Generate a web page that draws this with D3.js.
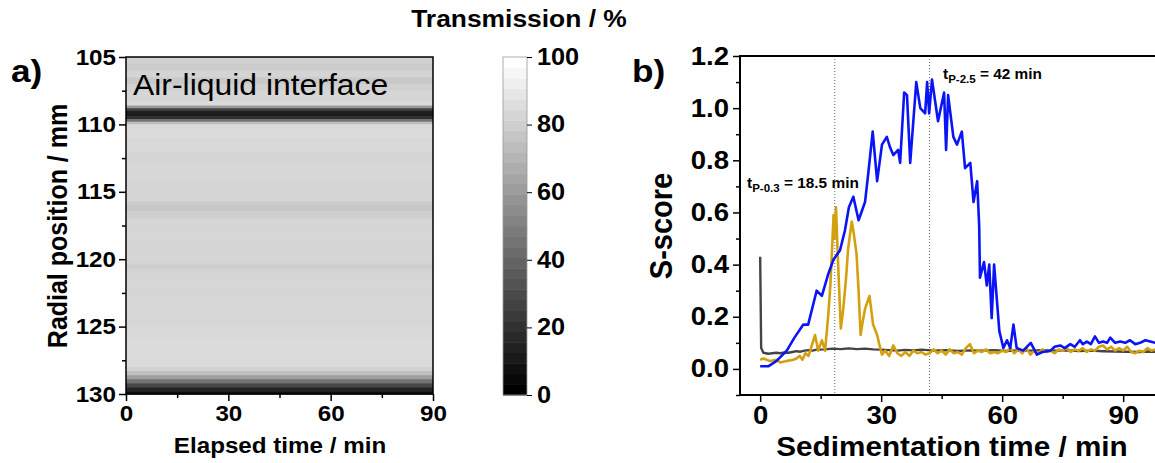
<!DOCTYPE html>
<html>
<head>
<meta charset="utf-8">
<script src="https://cdn.jsdelivr.net/npm/d3@7"></script>
<style>
  body { margin: 0; background: #fff; }
  text { font-family: "Liberation Sans", Arial, sans-serif; }
</style>
</head>
<body>
<script>
// ---- panel a: transmission profile (radial position in mm -> transmission %) ----
let heatPos = [105, 105.5, 106, 106.5, 107, 107.5, 108, 108.3, 108.6, 108.8, 109.0, 109.2, 109.4, 109.6, 109.8,
  110, 111, 112, 113, 114, 115, 115.7, 116.0, 116.4, 117, 118, 119, 120, 120.4, 120.7, 121, 122, 123, 124,
  125, 126, 127, 128, 128.3, 128.6, 128.9, 129.2, 129.5, 129.8];
let heatTrans = [82, 80, 83, 79, 82, 84, 83, 86, 60, 25, 12, 10, 18, 45, 75,
  86, 85, 84, 84.5, 84, 83.5, 80, 78, 81, 84, 84, 84, 83, 80.5, 83, 84, 84, 84.5, 84,
  85, 86, 85.5, 82, 75, 62, 45, 28, 14, 6];
let heatTimeTicks = [0, 30, 60, 90];
let heatPosTicks = [105, 110, 115, 120, 125, 130];
let cbTicks = [0, 20, 40, 60, 80, 100];

// ---- panel b: S-score series ----
let blueT = [0, 2, 4, 6.6, 8.5, 10.7, 11.9, 14, 15.3, 16.8, 18.2, 19.8, 21, 22, 23.1, 24.4, 26, 26.8, 27.9, 29,
  30.2, 31.4, 32.2, 33, 34.2, 34.7, 35.7, 36.4, 37.2, 38.7, 39.7, 40.9, 41.4, 41.9, 42.6, 44.1, 45.6, 46.1, 46.6,
  47.9, 48.8, 50, 50.8, 52.1, 52.9, 53.8, 54.3, 54.5, 55.5, 56.2, 56.8, 57.4, 58, 59.3, 60.3, 61.2, 62, 62.8,
  63.6, 65.2, 67.1, 68.6, 70, 72, 73, 74.4, 75.5, 76.9, 78, 79.3, 80, 81, 82, 83, 84, 85, 86, 86.8, 88, 89.3,
  90.5, 91.7, 93, 94.2, 95.5, 96.7, 98];
let blueS = [0.01, 0.01, 0.03, 0.07, 0.12, 0.17, 0.17, 0.30, 0.28, 0.36, 0.42, 0.455, 0.53, 0.62, 0.66, 0.57, 0.64, 0.75, 0.91, 0.72,
  0.86, 0.89, 0.85, 0.82, 0.84, 0.79, 1.06, 1.05, 0.79, 1.10, 1.00, 0.98, 1.10, 0.98, 1.11, 0.95, 1.06, 0.84, 1.05,
  0.89, 0.86, 0.91, 0.77, 0.79, 0.64, 0.72, 0.55, 0.35, 0.41, 0.32, 0.40, 0.195, 0.40, 0.145, 0.08, 0.11, 0.08, 0.17,
  0.08, 0.07, 0.10, 0.055, 0.065, 0.07, 0.085, 0.09, 0.08, 0.095, 0.085, 0.11, 0.095, 0.105, 0.095, 0.125, 0.10, 0.105, 0.10, 0.12, 0.10, 0.105,
  0.10, 0.11, 0.095, 0.10, 0.11, 0.105, 0.10];

let goldT = [0, 0.8, 2.5, 4, 5, 6.5, 8.2, 9, 9.8, 10.5, 11.2, 12, 12.8, 13.6, 14.4, 15.3, 16.1, 16.9, 17.4, 17.8,
  18.2, 18.5, 18.8, 19.2, 19.6, 20, 20.6, 21.3, 21.8, 22.7, 23.2, 23.9, 24.4, 24.9, 25.4, 26, 27.1, 27.6, 28, 29, 29.6,
  30.2, 31, 32, 33, 34, 35, 36, 37, 38, 39, 40, 41, 42, 43, 44, 45, 46, 47, 48, 49, 50, 51, 52, 53, 54, 55, 56, 57,
  58, 59, 60, 61, 62, 63, 64, 65, 66, 67, 68, 69, 70, 71, 72, 73, 74, 75, 76, 77, 78, 79, 80, 81, 82, 83, 84, 85,
  86, 87, 88, 89, 90, 91, 92, 93, 94, 95, 96, 97, 98];
let goldS = [0.035, 0.04, 0.03, 0.035, 0.025, 0.03, 0.035, 0.04, 0.05, 0.035, 0.06, 0.05, 0.09, 0.13, 0.07, 0.11, 0.07, 0.21, 0.32, 0.45,
  0.59, 0.50, 0.62, 0.45, 0.30, 0.155, 0.23, 0.35, 0.46, 0.565, 0.52, 0.44, 0.30, 0.13, 0.18, 0.23, 0.28, 0.22, 0.17, 0.13, 0.09,
  0.055, 0.07, 0.05, 0.09, 0.06, 0.05, 0.065, 0.05, 0.07, 0.06, 0.065, 0.055, 0.06, 0.075, 0.06, 0.07, 0.055, 0.075, 0.06, 0.065, 0.055, 0.08, 0.095, 0.06, 0.07, 0.065, 0.075, 0.06,
  0.065, 0.06, 0.07, 0.065, 0.08, 0.06, 0.075, 0.06, 0.08, 0.055, 0.07, 0.06, 0.075, 0.065, 0.07, 0.06, 0.075, 0.07, 0.08, 0.065, 0.075, 0.07, 0.08, 0.065, 0.075, 0.07, 0.085, 0.09,
  0.075, 0.085, 0.07, 0.08, 0.07, 0.085, 0.065, 0.06, 0.07, 0.065, 0.08, 0.07, 0.075];

let grayT = [0, 0.25, 0.8, 2, 3, 4, 5, 6, 7, 8, 9, 10, 11, 12, 13, 14, 16, 18, 20, 22, 24, 26, 28, 30, 32, 34, 36, 38,
  40, 43, 46, 49, 52, 55, 58, 61, 64, 67, 70, 73, 76, 79, 82, 85, 88, 91, 94, 96, 98];
let grayS = [0.43, 0.08, 0.062, 0.058, 0.06, 0.062, 0.06, 0.063, 0.062, 0.065, 0.068, 0.066, 0.07, 0.072, 0.07, 0.074, 0.075, 0.078, 0.076, 0.079, 0.076, 0.078, 0.075, 0.074, 0.072, 0.07, 0.073, 0.071,
  0.074, 0.07, 0.072, 0.069, 0.071, 0.07, 0.072, 0.069, 0.071, 0.07, 0.072, 0.07, 0.071, 0.069, 0.07, 0.068, 0.067, 0.066, 0.065, 0.067, 0.066];

let sedTicks = [0, 30, 60, 90];
let scoreTicks = [0.0, 0.2, 0.4, 0.6, 0.8, 1.0, 1.2];
let markerTimes = [18.5, 42];

// ---- svg ----
let svgWidth = 1155;
let svgHeight = 463;
let svg = d3.select("body").append("svg")
  .attr("width", svgWidth)
  .attr("height", svgHeight);

// the original picture is a bit wider than tall, so text gets a small x stretch
let stretch = 1.1;

function addText(x, y, str, size, opts) {
  opts = opts || {};
  let t = svg.append("text")
    .attr("transform", `translate(${x},${y}) ${opts.rotate ? "rotate(-90) scale(1," + stretch + ")" : "scale(" + stretch + ",1)"}`)
    .attr("font-size", size)
    .attr("font-weight", opts.weight || "bold")
    .attr("text-anchor", opts.anchor || "start")
    .text(str);
  return t;
}

function styleAxis(g, size) {
  g.select(".domain").remove();
  g.selectAll("line").attr("stroke", "#000").attr("stroke-width", 1.5);
  g.selectAll("text")
    .attr("font-family", "Liberation Sans, Arial, sans-serif")
    .attr("font-size", size)
    .attr("font-weight", "bold")
    .attr("fill", "#000")
    .each(function() {
      let t = d3.select(this);
      let x = +t.attr("x") || 0;
      let y = +t.attr("y") || 0;
      t.attr("x", 0).attr("y", 0).attr("transform", `translate(${x},${y}) scale(${stretch},1)`);
    });
  g.attr("font-family", null);
}

// ================= panel a =================
let xA = d3.scaleLinear([0, 90], [126, 433]);
let yA = d3.scaleLinear([105, 130], [57, 394]);
let grayScale = d3.scaleLinear([0, 100], ["#000000", "#ffffff"]);

let rows = heatPos.map((p, i) => ({
  p0: p,
  p1: i < heatPos.length - 1 ? heatPos[i + 1] : yA.domain()[1],
  v: heatTrans[i]
}));

svg.append("g").selectAll("rect")
  .data(rows)
  .enter()
  .append("rect")
  .attr("x", xA(0))
  .attr("width", xA(90) - xA(0))
  .attr("y", d => yA(d.p0))
  .attr("height", d => yA(d.p1) - yA(d.p0) + 0.5)
  .attr("fill", d => grayScale(d.v));

// frame
svg.append("rect")
  .attr("x", xA(0)).attr("y", yA(105))
  .attr("width", xA(90) - xA(0)).attr("height", yA(130) - yA(105))
  .attr("fill", "none").attr("stroke", "#000").attr("stroke-width", 1.5);

// axes with minor ticks
svg.append("g").attr("transform", `translate(${xA(0)},0)`)
  .call(d3.axisLeft(yA).tickValues([107.5, 112.5, 117.5, 122.5, 127.5]).tickSize(4).tickFormat(""))
  .call(styleAxis, 22);
svg.append("g").attr("transform", `translate(${xA(0)},0)`)
  .call(d3.axisLeft(yA).tickValues(heatPosTicks).tickSize(7).tickPadding(3))
  .call(styleAxis, 22);
svg.append("g").attr("transform", `translate(0,${yA(130)})`)
  .call(d3.axisBottom(xA).tickValues([15, 45, 75]).tickSize(4).tickFormat(""))
  .call(styleAxis, 22);
svg.append("g").attr("transform", `translate(0,${yA(130)})`)
  .call(d3.axisBottom(xA).tickValues(heatTimeTicks).tickSize(7).tickPadding(4))
  .call(styleAxis, 22);

addText(280, 453, "Elapsed time / min", 22, { anchor: "middle" });
addText(67, 226, "Radial position / mm", 25, { anchor: "middle", rotate: true });
addText(133, 95, "Air-liquid interface", 29, { weight: "normal" });
addText(11, 82, "a)", 32);

// ---- colorbar ----
let yC = d3.scaleLinear([0, 100], [395, 57]);
let nSteps = 32;
svg.append("g").selectAll("rect")
  .data(d3.range(nSteps))
  .enter()
  .append("rect")
  .attr("x", 503)
  .attr("width", 24)
  .attr("y", i => yC((i + 1) * 100 / nSteps))
  .attr("height", i => yC(i * 100 / nSteps) - yC((i + 1) * 100 / nSteps) + 0.5)
  .attr("fill", i => grayScale(i * 100 / (nSteps - 1)));
svg.append("rect")
  .attr("x", 503).attr("y", yC(100)).attr("width", 24).attr("height", yC(0) - yC(100))
  .attr("fill", "none").attr("stroke", "#999").attr("stroke-width", 0.8);
svg.append("g").attr("transform", "translate(527,0)")
  .call(d3.axisRight(yC).tickValues(cbTicks).tickSize(5).tickPadding(5))
  .call(styleAxis, 23)
  .selectAll("line").attr("stroke-width", 1);

addText(519, 27, "Transmission / %", 24, { anchor: "middle" });

// ================= panel b =================
let xB = d3.scaleLinear([-5, 100], [740, 1163.5]);
let yB = d3.scaleLinear([-0.1, 1.2], [395, 56]);

svg.append("clipPath").attr("id", "clipB")
  .append("rect").attr("x", xB(-5)).attr("y", yB(1.2)).attr("width", xB(100) - xB(-5)).attr("height", yB(-0.1) - yB(1.2));

// dotted markers
svg.append("g").selectAll("line")
  .data(markerTimes)
  .enter()
  .append("line")
  .attr("x1", d => xB(d)).attr("x2", d => xB(d))
  .attr("y1", yB(1.2)).attr("y2", yB(-0.1))
  .attr("stroke", "#666").attr("stroke-width", 1).attr("stroke-dasharray", "1,2");

let line = d3.line().x(d => xB(d[0])).y(d => yB(d[1]));
let plotB = svg.append("g").attr("clip-path", "url(#clipB)");
let series = [
  { t: grayT, s: grayS, color: "#444444", w: 2.4 },
  { t: goldT, s: goldS, color: "#d4a010", w: 2.6 },
  { t: blueT, s: blueS, color: "#0a14f5", w: 2.6 }
];
series.forEach(function(ser) {
  plotB.append("path")
    .datum(ser.t.map((t, i) => [t, ser.s[i]]))
    .attr("d", line)
    .attr("fill", "none")
    .attr("stroke", ser.color)
    .attr("stroke-width", ser.w)
    .attr("stroke-linejoin", "round");
});

// axes
svg.append("g").attr("transform", `translate(${xB(-5)},0)`)
  .call(d3.axisLeft(yB).tickValues([-0.1, 0.1, 0.3, 0.5, 0.7, 0.9, 1.1]).tickSize(4).tickFormat(""))
  .call(styleAxis, 25);
svg.append("g").attr("transform", `translate(${xB(-5)},0)`)
  .call(d3.axisLeft(yB).tickValues(scoreTicks).tickSize(7).tickPadding(4).tickFormat(d3.format(".1f")))
  .call(styleAxis, 25);
svg.append("g").attr("transform", `translate(0,${yB(-0.1)})`)
  .call(d3.axisBottom(xB).tickValues([15, 45, 75]).tickSize(4).tickFormat(""))
  .call(styleAxis, 25);
svg.append("g").attr("transform", `translate(0,${yB(-0.1)})`)
  .call(d3.axisBottom(xB).tickValues(sedTicks).tickSize(7).tickPadding(4))
  .call(styleAxis, 25);

// frame lines: left, bottom, top
svg.append("path")
  .attr("d", `M${xB(100)},${yB(1.2)}H${xB(-5)}V${yB(-0.1)}H${xB(100)}`)
  .attr("fill", "none").attr("stroke", "#000").attr("stroke-width", 2);

addText(952, 456, "Sedimentation time / min", 27, { anchor: "middle" });
addText(672, 226, "S-score", 29, { anchor: "middle", rotate: true });
addText(632, 82, "b)", 32);

// annotations with subscripts
function annot(x, y, sub, rest) {
  let t = addText(x, y, "t", 14);
  t.append("tspan").attr("dy", 4).attr("font-size", 10.5).text(sub);
  t.append("tspan").attr("dy", -4).text(rest);
}
annot(747, 188, "P-0.3", " = 18.5 min");
annot(943, 79, "P-2.5", " = 42 min");
</script>
</body>
</html>
